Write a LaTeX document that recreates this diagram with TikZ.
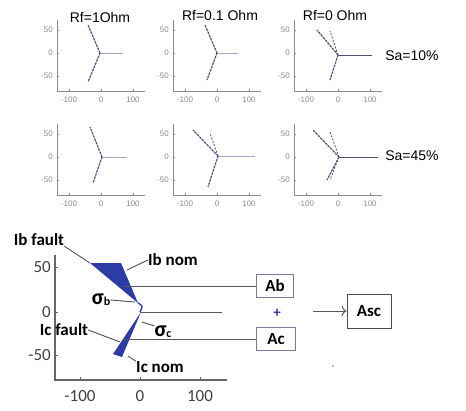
\documentclass[tikz,border=0pt]{standalone}
\usepackage{fontspec}
\setmainfont{Liberation Sans}
\newfontfamily\calfont{Carlito}
\usetikzlibrary{arrows.meta, positioning, calc}
\definecolor{axisgray}{HTML}{8C8C8C}
\definecolor{phasorslate}{HTML}{4E4E78}
\definecolor{phasorlight}{HTML}{A9A6C4}
\definecolor{faultblue}{HTML}{2D3BA6}
\definecolor{leadergray}{HTML}{4A4F66}
\definecolor{boxedge}{HTML}{7A7A9A}

\begin{document}
\begin{tikzpicture}[x=1pt, y=-1pt, font=\fontsize{14}{16}\selectfont,
    smallaxis/.style={axisgray, line width=0.8pt},
    smalltick/.style={font=\fontsize{8}{9}\selectfont, text=axisgray, inner sep=0pt},
    phasorref/.style={phasorlight, line width=0.9pt},
    phasor/.style={phasorlight, line width=1pt},
    phasordash/.style={phasorslate, line width=1.1pt, dash pattern=on 2pt off 1.5pt},
    bigaxis/.style={black!60, line width=1.1pt},
    bigtick/.style={font=\calfont\fontsize{17}{19}\selectfont, text=black!75, inner sep=0pt},
    faultlabel/.style={font=\calfont\bfseries\fontsize{17}{19}\selectfont, inner sep=0pt},
    leader/.style={leadergray, line width=0.9pt},
    feed/.style={black!65, line width=1pt},
    sumbox/.style={rectangle, draw=boxedge, line width=1pt, fill=white, minimum height=23pt,
      inner sep=2pt, font=\calfont\bfseries\fontsize{17}{19}\selectfont}]

  \useasboundingbox (0,0) rectangle (466,410);

  % six small plots: axes and ticks
  \foreach \ox/\oy in {57/91, 173/91, 294/91, 57/195, 173/195, 294/195} {
    \draw[smallaxis] (\ox,\oy-71) -- (\ox,\oy) -- (\ox+88,\oy);
    \foreach \ty/\tl [count=\k] in {-61/50, -38/0, -15/-50} {
      \draw[smallaxis, line width=0.5pt] (\ox,\oy+\ty) -- ++(2,0);
      \node (yl\ox\oy\k) [smalltick, anchor=east] at (\ox-4,\oy+\ty) {\tl};
    }
    \foreach \tx/\tl [count=\k] in {-32/-100, 0/0, 32/100} {
      \draw[smallaxis, line width=0.5pt] (\ox+44+\tx,\oy) -- ++(0,-2);
      \node (xl\ox\oy\k) [smalltick] at (\ox+44+\tx,\oy+9) {\tl};
    }
  }

  \node (rf1) at (100,17) {Rf=1Ohm};
  \node (rf2) at (220,15) {Rf=0.1 Ohm};
  \node (rf3) at (335,15) {Rf=0 Ohm};
  \node (sa10) at (412,56) {Sa=10\%};
  \node (sa45) at (412,156) {Sa=45\%};

  % phasors, Sa=10%
  \coordinate (c11) at (100,53);
  \draw[phasorref] (c11) -- ++(23,0);
  \draw[phasor] (c11) -- ++(-12,-28); \draw[phasordash] (c11) -- ++(-12,-28);
  \draw[phasor] (c11) -- ++(-12,29); \draw[phasordash] (c11) -- ++(-12,29);

  \coordinate (c12) at (217,53);
  \draw[phasorref] (c12) -- ++(21,0);
  \draw[phasor] (c12) -- ++(-12,-28); \draw[phasordash] (c12) -- ++(-12,-28);
  \draw[phasor] (c12) -- ++(-10,27); \draw[phasordash] (c12) -- ++(-10,27);

  \coordinate (c13) at (338,55);
  \draw[phasorslate, line width=0.9pt] (c13) -- ++(34,0);
  \draw[phasor] (c13) -- ++(-21,-25); \draw[phasordash] (c13) -- ++(-21,-25);
  \draw[phasordash, line width=0.8pt] (c13) -- ++(-8,-24);
  \draw[phasor] (c13) -- ++(-8,25); \draw[phasordash] (c13) -- ++(-8,25);

  % phasors, Sa=45%
  \coordinate (c21) at (102,157);
  \draw[phasorref] (c21) -- ++(25,0);
  \draw[phasor] (c21) -- ++(-12,-30); \draw[phasordash] (c21) -- ++(-12,-30);
  \draw[phasor] (c21) -- ++(-9,26); \draw[phasordash] (c21) -- ++(-9,26);

  \coordinate (c22) at (218,156);
  \draw[phasorref] (c22) -- ++(37,0);
  \draw[phasor] (c22) -- ++(-25,-26); \draw[phasordash] (c22) -- ++(-25,-26);
  \draw[phasordash, line width=0.8pt] (c22) -- ++(-8,-23);
  \draw[phasor] (c22) -- ++(-10,31); \draw[phasordash] (c22) -- ++(-10,31);

  \coordinate (c23) at (339,157);
  \draw[phasorslate, line width=0.9pt] (c23) -- ++(39,0);
  \draw[phasor] (c23) -- ++(-26,-27); \draw[phasordash] (c23) -- ++(-26,-27);
  \draw[phasordash, line width=0.8pt] (c23) -- ++(-9,-25);
  \draw[phasor] (c23) -- ++(-12,23); \draw[phasordash] (c23) -- ++(-12,23);
  \draw[phasordash, line width=0.8pt] (c23) -- ++(-9,23);

  % large plot
  \draw[bigaxis] (55,255) -- (55,380) -- (227,380);
  \foreach \ty/\tl [count=\k] in {267/50, 312/0, 355/-50} {
    \draw[bigaxis, line width=0.7pt] (55,\ty) -- ++(3,0);
    \node (byl\k) [bigtick, anchor=east] at (51,\ty) {\tl};
  }
  \foreach \tx/\tl [count=\k] in {80/-100, 140/0, 200/100} {
    \draw[bigaxis, line width=0.7pt] (\tx,380) -- ++(0,-3);
    \node (bxl\k) [bigtick] at (\tx,396) {\tl};
  }

  \coordinate (bfault) at (90,263);
  \coordinate (bnom) at (121,263);
  \coordinate (btip) at (138,303);
  \coordinate (orig) at (140,312);
  \coordinate (cfault) at (113,354);
  \coordinate (cnom) at (122,357);
  \fill[faultblue] (bfault) -- (bnom) -- (btip) -- cycle;
  \draw[faultblue, line width=1.3pt] (btip) .. controls (143,306) .. (orig);
  \fill[faultblue] (141,312) -- (cfault) -- (cnom) -- cycle;

  \node (ab) [sumbox, minimum width=37pt] at (275,286) {Ab};
  \node (ac) [sumbox, minimum width=39pt] at (276,339) {Ac};
  \node (plus) [text=faultblue, font=\calfont\bfseries\fontsize{15}{17}\selectfont] at (277,313) {+};
  \node (asc) [sumbox, draw=black!70, minimum width=44pt, minimum height=34pt] at (369,311) {Asc};

  \coordinate (bfeed) at (123,286);
  \coordinate (aend) at (222,312);
  \coordinate (cfeed) at (123,339);
  \coordinate (arrstart) at (313,311);
  \draw[feed] (bfeed) -- (ab.west);
  \draw[feed] (orig) -- (aend);
  \draw[feed] (cfeed) -- (ac.west);
  \draw[feed, -{To[scale=1.3]}] (arrstart) -- (asc.west);

  \node (ibf) [faultlabel] at (39,240) {Ib fault};
  \node (ibn) [faultlabel] at (173,260) {Ib nom};
  \node (sgb) [faultlabel] at (101,300) {{\fontsize{22}{22}\selectfont σ}\raisebox{-1pt}{\fontsize{12}{12}\selectfont b}};
  \node (sgc) [faultlabel] at (163,332) {{\fontsize{22}{22}\selectfont σ}\raisebox{-1pt}{\fontsize{12}{12}\selectfont c}};
  \node (icf) [faultlabel] at (64,330) {Ic fault};
  \node (icn) [faultlabel] at (160,367) {Ic nom};

  \coordinate (ibnpt) at (127,270);
  \coordinate (sgbpt) at (135,302);
  \coordinate (sgcpt) at (142,322);
  \coordinate (icfpt) at (120,342);
  \coordinate (icnpt) at (128,356);
  \draw[leader] (ibf.south east) -- (bfault);
  \draw[leader] (ibn.west) -- (ibnpt);
  \draw[leader] (sgb.east) -- (sgbpt);
  \draw[leader] (sgc.north west) -- (sgcpt);
  \draw[leader] (icf.east) -- (icfpt);
  \draw[leader] (icn.north west) -- (icnpt);

  \fill[black!50] (333,366) circle (0.8pt);
\end{tikzpicture}
\end{document}
